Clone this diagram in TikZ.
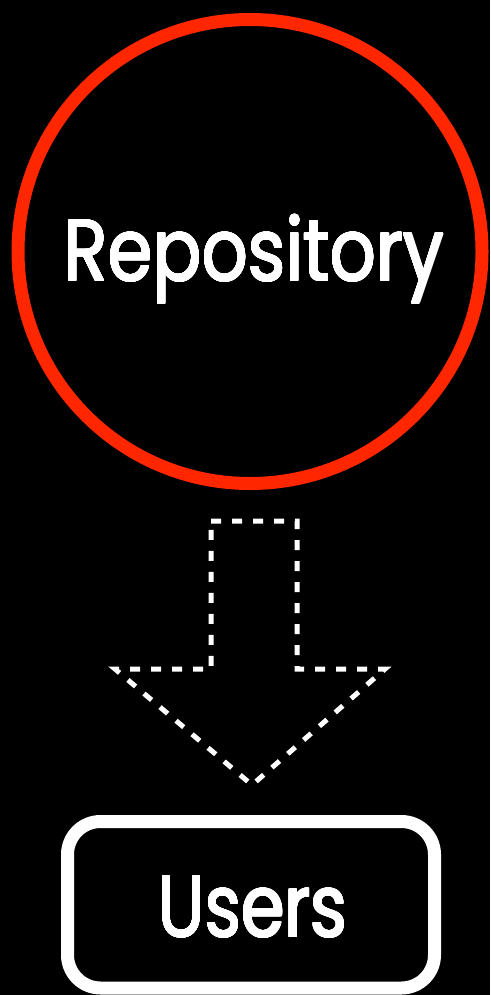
\documentclass[tikz,border=0pt]{standalone}
\usepackage{fontspec}
\setmainfont{Poppins}
\usepackage[copies]{contour}
\contourlength{0.9pt}
\contournumber{24}
\usepackage{graphicx}
\definecolor{repored}{RGB}{255,38,0}
\tikzset{
  repocircle/.style={circle, draw=repored, line width=13pt, minimum size=464pt, inner sep=0pt},
  userbox/.style={rectangle, draw=white, line width=13pt, rounded corners=33pt, minimum width=367pt, minimum height=166.5pt, inner sep=0pt},
  bigtext/.style={text=white, anchor=base, inner sep=0pt, font=\fontsize{87}{87}\selectfont},
  flowarrow/.style={draw=white, line width=5pt, dash pattern=on 10pt off 11pt},
}
\begin{document}
\begin{tikzpicture}[x=1pt,y=-1pt]
\fill[black] (0,0) rectangle (490,995);
\useasboundingbox (0,0) rectangle (490,995);
\node[repocircle] (repo) at (250,251.5) {};
\node[bigtext] (repotext) at (254,281) {\resizebox{380pt}{\height}{\contour{white}{Repository}}};
\node[userbox] (users) at (251,904.75) {};
\node[bigtext] (userstext) at (252.5,937) {\resizebox{189pt}{\height}{\contour{white}{Users}}};
\coordinate (a1) at (211,521);
\coordinate (a2) at (297,521);
\coordinate (a3) at (297,669);
\coordinate (a4) at (385,669);
\coordinate (a5) at (252,785);
\coordinate (a6) at (115,669);
\coordinate (a7) at (211,669);
\draw[flowarrow] (a1) -- (a2) -- (a3) -- (a4) -- (a5) -- (a6) -- (a7) -- cycle;
\end{tikzpicture}
\end{document}
